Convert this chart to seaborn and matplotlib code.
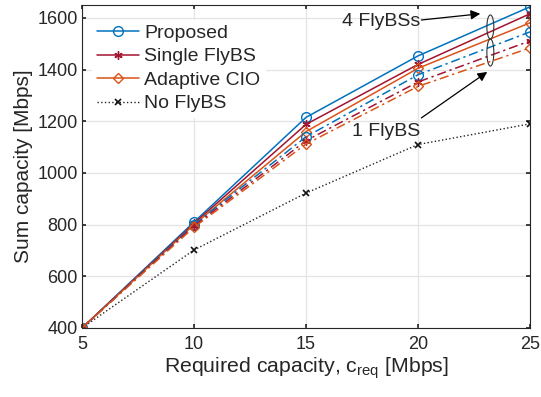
import matplotlib
matplotlib.use("Agg")
import matplotlib.pyplot as plt
import seaborn as sns
import numpy as np
import pandas as pd
from matplotlib.patches import Ellipse

c_req = [5, 10, 15, 20, 25]
proposed_4 = [400, 810, 1215, 1453, 1643]
single_4 = [400, 805, 1188, 1420, 1616]
adaptive_4 = [400, 800, 1160, 1405, 1581]
proposed_1 = [400, 800, 1140, 1380, 1546]
single_1 = [400, 795, 1125, 1352, 1511]
adaptive_1 = [400, 790, 1112, 1335, 1484]
no_flybs = [400, 702, 922, 1110, 1190]

x_ticks = [5, 10, 15, 20, 25]
y_ticks = [400, 600, 800, 1000, 1200, 1400, 1600]

sns.set_theme(style="white")
plt.rcParams['font.family'] = ['Liberation Sans', 'DejaVu Sans']
plt.rcParams['mathtext.fontset'] = 'custom'
plt.rcParams['mathtext.rm'] = 'Liberation Sans'

blue = "#0072BD"
red = "#A2142F"
orange = "#D95319"
txt = "#262626"

fig = plt.figure(figsize=(5.41, 3.97), dpi=100)
ax = fig.add_axes([82/541, 1-328/397, (530-82)/541, (328-5)/397])

ast = (6, 2, 0)

sns.lineplot(x=c_req, y=proposed_4, color=blue, marker='o', markerfacecolor='none',
             markeredgecolor=blue, label='Proposed', ax=ax, linewidth=1.1,
             markersize=7, markeredgewidth=1.0)
sns.lineplot(x=c_req, y=single_4, color=red, marker=ast, markeredgecolor=red,
             label='Single FlyBS', ax=ax, linewidth=1.1, markersize=6, markeredgewidth=1.0)
sns.lineplot(x=c_req, y=adaptive_4, color=orange, marker='D', markerfacecolor='none',
             markeredgecolor=orange, label='Adaptive CIO',
             ax=ax, linewidth=1.1, markersize=5.5, markeredgewidth=1.0)
sns.lineplot(x=c_req, y=no_flybs, color='#222222', marker='x', markeredgecolor='#111111',
             label='No FlyBS', ax=ax, linewidth=1.0, markersize=5, markeredgewidth=1.2,
             linestyle=':')

sizes = {'o': 7, 'D': 5.5}
for ydata, col, mk in [(proposed_1, blue, 'o'), (single_1, red, ast), (adaptive_1, orange, 'D')]:
    ms = sizes.get(mk, 6) if isinstance(mk, str) else 6
    sns.lineplot(x=c_req, y=ydata, color=col, marker=mk, ax=ax, linewidth=1.1,
                 markersize=ms, markeredgewidth=1.0, markeredgecolor=col,
                 markerfacecolor='none' if mk in ('o', 'D') else col,
                 legend=False)
    ax.lines[-1].set_linestyle((0, (6, 2.5, 1.5, 2.5)))

ax.set_xlim(5, 25)
ax.set_ylim(400, 1650)
ax.set_xticks(x_ticks)
ax.set_yticks(y_ticks)
ax.tick_params(axis='both', direction='in', labelsize=13, length=3, colors=txt,
               top=True, right=True, bottom=True, left=True)
ax.tick_params(axis='x', pad=6)
ax.tick_params(axis='y', pad=3)
ax.grid(True, color='#e4e4e4', linewidth=0.9)
for s in ax.spines.values():
    s.set_visible(True)
    s.set_color('#262626')
    s.set_linewidth(0.8)

ax.set_xlabel(r'Required capacity, c$_{\mathregular{req}}$ [Mbps]', fontsize=15.3,
              color=txt, labelpad=1)
ax.set_ylabel('Sum capacity [Mbps]', fontsize=15, color=txt, labelpad=3)

leg = ax.legend(loc='upper left', fontsize=14, frameon=True, fancybox=False,
                borderpad=0.25, handlelength=2.2, handletextpad=0.25, labelspacing=0.3,
                bbox_to_anchor=(0.0, 0.985), borderaxespad=0.5)
leg.get_frame().set_edgecolor('white')
leg.get_frame().set_facecolor('white')
leg.get_frame().set_alpha(1)
for t in leg.get_texts():
    t.set_color(txt)

ax.add_patch(Ellipse((23.23, 1565), 0.31, 93, fill=False, edgecolor='#333333',
                     linewidth=0.8, zorder=5))
ax.add_patch(Ellipse((23.23, 1466), 0.31, 105, fill=False, edgecolor='#333333',
                     linewidth=0.8, zorder=5))

arrow = dict(arrowstyle='-|>', color='black', lw=0.9, mutation_scale=14,
             shrinkA=0, shrinkB=0)
ax.annotate('', xy=(22.78, 1616), xytext=(20.15, 1592), arrowprops=arrow, zorder=6)
ax.text(20.08, 1585, '4 FlyBSs', fontsize=14, color=txt, ha='right', va='center', zorder=6)
ax.annotate('', xy=(23.09, 1391), xytext=(20.15, 1213), arrowprops=arrow, zorder=6)
ax.text(20.08, 1159, '1 FlyBS', fontsize=14, color=txt, ha='right', va='center', zorder=6)

fig.savefig('out.png', dpi=100)
